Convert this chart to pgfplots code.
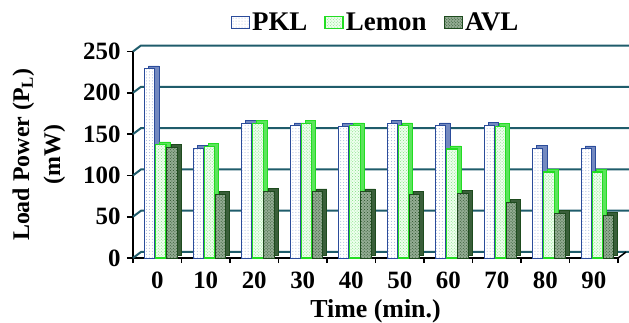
\documentclass[border=0pt]{standalone}
\usepackage{pgfplots}
\pgfplotsset{compat=1.18}
\usepackage{fontspec}
\setmainfont{Liberation Serif}
\usetikzlibrary{patterns}
\definecolor{gridcol}{HTML}{1F5C6B}
\definecolor{pklb}{HTML}{2B4C9B}
\definecolor{pkls}{HTML}{7389C0}
\definecolor{pkld}{HTML}{9FB0D8}
\definecolor{lemb}{HTML}{22DD22}
\definecolor{lems}{HTML}{5CE45C}
\definecolor{lemf}{HTML}{EEFFEE}
\definecolor{lemd}{HTML}{80E080}
\definecolor{avlb}{HTML}{1E4B1E}
\definecolor{avls}{HTML}{3A5F3A}
\definecolor{avlf}{HTML}{93AC93}
\definecolor{avld}{HTML}{264F26}
\pgfplotsset{sqlegend/.style={legend image code/.code={\draw[##1] (0bp,-6bp) rectangle (18bp,6bp);}}}
\pgfplotstableread{
x PKL Lemon AVL
0 229 137 134
1 133 135 77
2 163 163 81
3 160 163 80
4 159 160 80
5 163 160 77
6 160 132 78
7 161 159 67
8 133 104 54
9 132 104 52
}\datatable
\begin{document}
\begin{tikzpicture}
\begin{axis}[
  name=ax,
  scale only axis,
  width=485bp, height=206.5bp,
  xmin=-0.5, xmax=9.5, ymin=0, ymax=250,
  axis x line*=bottom, axis y line*=left,
  axis line style={black, line width=2.2bp},
  clip=false,
  ybar, bar width=0.215,
  xtick={0,...,9},
  xticklabels={0,10,20,30,40,50,60,70,80,90},
  minor xtick={-0.5,0.5,...,9.5},
  major x tick style={draw=none},
  minor x tick style={black, line width=1.8bp},
  minor tick length=5bp,
  ytick={0,50,...,250},
  y tick style={black, line width=1.8bp},
  major tick length=6bp,
  tick align=outside,
  /pgf/number format/assume math mode=true,
  tick label style={font=\fontsize{25}{28}\selectfont\bfseries},
  xticklabel style={yshift=-4bp},
  yticklabel style={xshift=-3bp},
  xlabel={Time (min.)},
  xlabel style={font=\fontsize{26}{30}\selectfont\bfseries, at={(axis description cs:0.5,-0.257)}, anchor=center},
  ylabel={Load Power (P\textsubscript{L})\\(mW)},
  ylabel style={font=\fontsize{24}{31}\selectfont\bfseries, align=center, at={(axis description cs:-0.194,0.5)}, anchor=center, rotate=0},
  legend columns=3,
  legend style={draw=none, fill=none, at={(axis description cs:0.5,1.14)}, anchor=center,
    font=\fontsize{27}{30}\selectfont\bfseries,
    /tikz/every even column/.append style={column sep=15bp}},
]
% back wall grid
\draw[gridcol, line width=2bp] (axis cs:-0.5,0) -- ++(8bp,6bp) -- ++(488bp,0bp);
\draw[gridcol, line width=2bp] (axis cs:-0.5,50) -- ++(8bp,6bp) -- ++(488bp,0bp);
\draw[gridcol, line width=2bp] (axis cs:-0.5,100) -- ++(8bp,6bp) -- ++(488bp,0bp);
\draw[gridcol, line width=2bp] (axis cs:-0.5,150) -- ++(8bp,6bp) -- ++(488bp,0bp);
\draw[gridcol, line width=2bp] (axis cs:-0.5,200) -- ++(8bp,6bp) -- ++(488bp,0bp);
\draw[gridcol, line width=2bp] (axis cs:-0.5,250) -- ++(8bp,6bp) -- ++(488bp,0bp);
\draw[black, line width=1.5bp] (axis cs:9.5,0) -- ++(8bp,6bp);
% side/top shading (3D depth)
\addplot[forget plot, bar shift=-0.155, fill=pkls, draw=pklb, line width=0.6bp, xshift=4bp, yshift=3bp] table[x=x,y=PKL]{\datatable};
\addplot[forget plot, bar shift=-0.155, fill=white, draw=pklb, line width=1bp,
  postaction={pattern=dots, pattern color=pkld}] table[x=x,y=PKL]{\datatable};
\addplot[forget plot, bar shift=0.075, fill=lems, draw=lemb, line width=0.6bp, xshift=4bp, yshift=3bp] table[x=x,y=Lemon]{\datatable};
\addplot[forget plot, bar shift=0.075, fill=lemf, draw=lemb, line width=1.2bp,
  postaction={pattern=crosshatch dots, pattern color=lemd}] table[x=x,y=Lemon]{\datatable};
\addplot[forget plot, bar shift=0.305, fill=avls, draw=avlb, line width=0.6bp, xshift=4bp, yshift=3bp] table[x=x,y=AVL]{\datatable};
\addplot[forget plot, bar shift=0.305, fill=avlf, draw=avlb, line width=1bp,
  postaction={pattern=crosshatch dots, pattern color=avld}] table[x=x,y=AVL]{\datatable};
% legend entries
\addlegendimage{sqlegend, fill=white, draw=pklb, line width=1.5bp, postaction={pattern=dots, pattern color=pkld}}
\addlegendentry{PKL}
\addlegendimage{sqlegend, fill=lemf, draw=lemb, line width=1.5bp, postaction={pattern=crosshatch dots, pattern color=lemd}}
\addlegendentry{Lemon}
\addlegendimage{sqlegend, fill=avlf, draw=avlb, line width=1.5bp, postaction={pattern=crosshatch dots, pattern color=avld}}
\addlegendentry{AVL}
\end{axis}
\pgfresetboundingbox
\path[use as bounding box] (ax.south west) ++(-133bp,-65bp) rectangle ++(629bp,323bp);
\end{tikzpicture}
\end{document}
